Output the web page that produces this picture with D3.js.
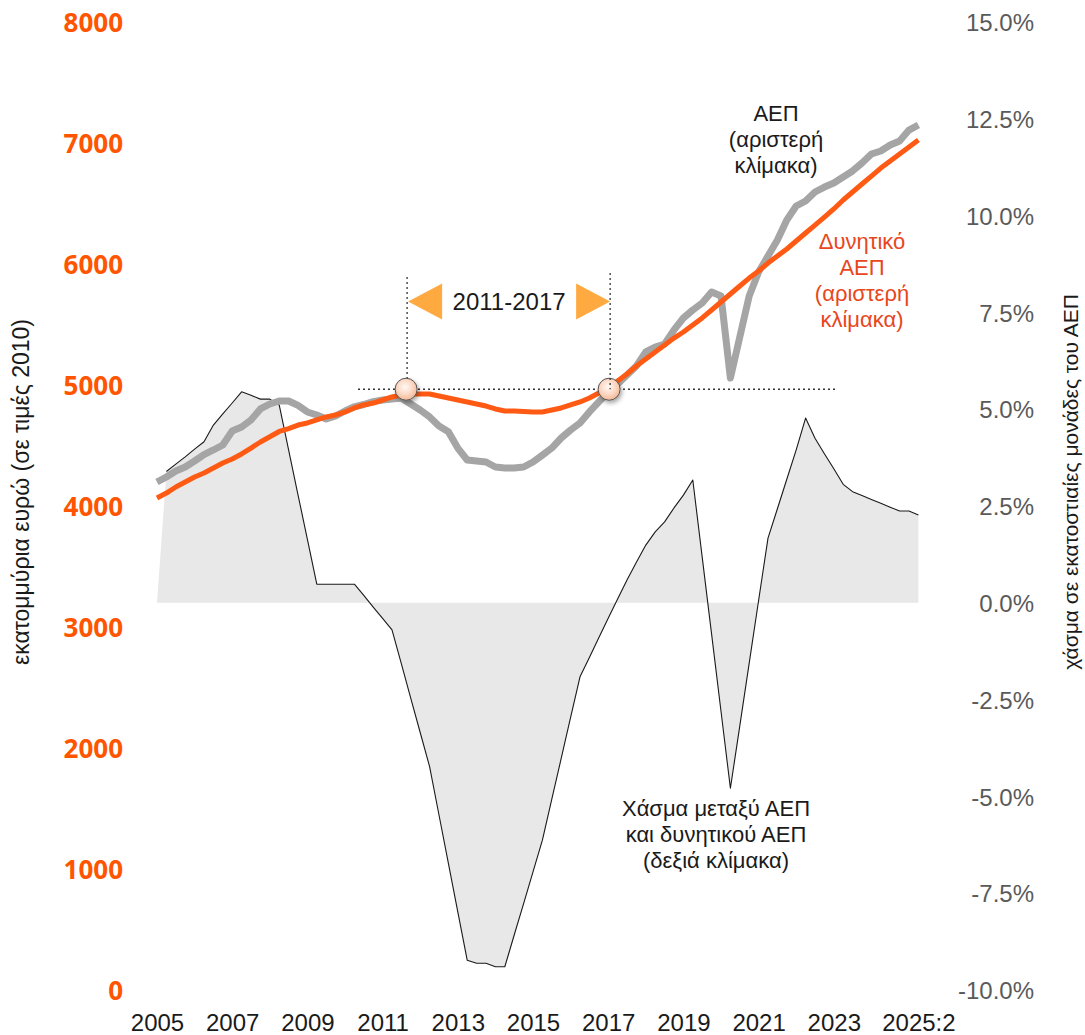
<!DOCTYPE html>
<html>
<head>
<meta charset="utf-8">
<script src="https://cdn.jsdelivr.net/npm/d3@7"></script>
<style>
  html, body { margin: 0; padding: 0; background: #fff; }
  svg { display: block; }
</style>
</head>
<body>
<svg id="chart" width="1085" height="1035"></svg>
<script>
// Quarterly periods 2005:1 … 2025:2
const quarters = d3.range(2005, 2026)
  .flatMap(y => [1, 2, 3, 4].map(q => `${y}:${q}`))
  .slice(0, 82);

// Real GDP, million euro at 2010 prices (left scale)
const gdp = [
  4198, 4240, 4289, 4322,
  4372, 4425, 4463, 4504,
  4620, 4653, 4711, 4802,
  4843, 4868, 4868, 4831,
  4777, 4752, 4719, 4744,
  4785, 4820, 4839, 4863,
  4876, 4884, 4893, 4843,
  4793, 4736, 4661, 4614,
  4479, 4380, 4372, 4364,
  4322, 4314, 4314, 4322,
  4364, 4421, 4479, 4562,
  4628, 4686, 4777, 4860,
  4942, 5008, 5083, 5157,
  5273, 5314, 5339, 5455,
  5554, 5620, 5678, 5769,
  5736, 5058, 5397, 5736,
  5934, 6066, 6198, 6364,
  6479, 6521, 6595, 6636,
  6669, 6719, 6769, 6835,
  6909, 6934, 6983, 7017,
  7107, 7149
];

// Potential GDP, million euro at 2010 prices (left scale)
const potential = [
  4066, 4107, 4157, 4198,
  4240, 4273, 4314, 4355,
  4388, 4430, 4479, 4529,
  4572, 4616, 4640, 4669,
  4686, 4711, 4736, 4752,
  4777, 4810, 4835, 4851,
  4876, 4901, 4917, 4926,
  4926, 4926, 4909, 4893,
  4876, 4860, 4843, 4826,
  4802, 4785, 4785, 4781,
  4777, 4777, 4793, 4810,
  4835, 4860, 4893, 4934,
  4983, 5033, 5091, 5157,
  5215, 5273, 5331, 5388,
  5438, 5496, 5554, 5620,
  5686, 5752, 5818, 5884,
  5942, 6008, 6066, 6124,
  6190, 6256, 6322, 6388,
  6455, 6529, 6595, 6661,
  6727, 6793, 6851, 6909,
  6967, 7025
];

// Output gap, percentage points of GDP (right scale); first quarter not available
const gap = [
  null, 3.39, 3.58, 3.77,
  3.97, 4.16, 4.59, 4.88,
  5.16, 5.45, 5.36, 5.26,
  5.26, 5.11, 3.95, 2.79,
  1.64, 0.48, 0.48, 0.48,
  0.48, 0.48, 0.19, -0.11,
  -0.40, -0.70, -1.58, -2.47,
  -3.35, -4.23, -5.48, -6.73,
  -7.98, -9.23, -9.31, -9.31,
  -9.40, -9.40, -8.58, -7.77,
  -6.95, -6.13, -5.07, -4.02,
  -2.96, -1.91, -1.41, -0.90,
  -0.40, 0.10, 0.59, 1.05,
  1.49, 1.83, 2.09, 2.45,
  2.78, 3.17, 1.18, -0.81,
  -2.80, -4.79, -3.18, -1.56,
  0.06, 1.67, 2.43, 3.19,
  3.95, 4.77, 4.25, 3.85,
  3.46, 3.06, 2.87, 2.77,
  2.67, 2.57, 2.47, 2.37,
  2.37, 2.27
];

// Axis ticks
const leftTicks = [0, 1000, 2000, 3000, 4000, 5000, 6000, 7000, 8000];
const rightTicks = [-10, -7.5, -5, -2.5, 0, 2.5, 5, 7.5, 10, 12.5, 15];
const xTickPeriods = ["2005:1", "2007:1", "2009:1", "2011:1", "2013:1", "2015:1",
                      "2017:1", "2019:1", "2021:1", "2023:1", "2025:2"];
const xTickLabels = ["2005", "2007", "2009", "2011", "2013", "2015",
                     "2017", "2019", "2021", "2023", "2025:2"];

// 2011-2017 highlight: period positions (fractional quarter index) and level
const spanMarks = [26.5, 48.1];
const spanLevel = 4965;
const spanLabel = "2011-2017";

const svg = d3.select("#chart");
const FONT = "'Liberation Sans', Arial, sans-serif";
const pct = d3.formatLocale({ decimal: ".", thousands: ",", grouping: [3],
                              currency: ["", ""], minus: "-" }).format(".1f");

const x = d3.scaleLinear().domain([0, quarters.length - 1]).range([157, 918.4]);
const yL = d3.scaleLinear().domain([0, 8000]).range([990, 22]);
const yR = d3.scaleLinear().domain([-10, 15]).range([990, 22]);

const defs = svg.append("defs");
const grad = defs.append("radialGradient").attr("id", "ball")
  .attr("cx", "45%").attr("cy", "40%").attr("r", "60%");
grad.append("stop").attr("offset", "0%").attr("stop-color", "#fffaf6");
grad.append("stop").attr("offset", "55%").attr("stop-color", "#fcd9c6");
grad.append("stop").attr("offset", "100%").attr("stop-color", "#f3b896");
const shadow = defs.append("filter").attr("id", "shadow")
  .attr("x", "-50%").attr("y", "-50%").attr("width", "200%").attr("height", "200%");
shadow.append("feDropShadow").attr("dx", 1.5).attr("dy", 2.5)
  .attr("stdDeviation", 2).attr("flood-color", "#000").attr("flood-opacity", 0.35);

// Output gap: shaded area and outline
const gapArea = d3.area()
  .x((d, i) => x(i))
  .y0(yR(0))
  .y1(d => yR(d == null ? 0 : d));
svg.append("path").datum(gap)
  .attr("d", gapArea)
  .attr("fill", "#e8e8e8");

const gapLine = d3.line()
  .defined(d => d != null)
  .x((d, i) => x(i))
  .y(d => yR(d));
svg.append("path").datum(gap)
  .attr("d", gapLine)
  .attr("fill", "none")
  .attr("stroke", "#1a1a1a")
  .attr("stroke-width", 1.1)
  .attr("stroke-linejoin", "round");

// GDP and potential GDP
const lvlLine = d3.line().x((d, i) => x(i)).y(d => yL(d));
svg.append("path").datum(gdp)
  .attr("d", lvlLine)
  .attr("fill", "none")
  .attr("stroke", "#a5a5a5")
  .attr("stroke-width", 7)
  .attr("stroke-linejoin", "round");
svg.append("path").datum(potential)
  .attr("d", lvlLine)
  .attr("fill", "none")
  .attr("stroke", "#ff5a14")
  .attr("stroke-width", 5)
  .attr("stroke-linejoin", "round");

// Highlight of the 2011-2017 span
const dotted = { stroke: "#333", "stroke-width": 1.3, "stroke-dasharray": "2,3" };
function applyAttrs(sel, attrs) { Object.entries(attrs).forEach(([k, v]) => sel.attr(k, v)); return sel; }

applyAttrs(svg.append("line")
  .attr("x1", 358).attr("x2", 835)
  .attr("y1", yL(spanLevel)).attr("y2", yL(spanLevel)), dotted);

const bracketY = yL(5690);
svg.selectAll("circle.mark").data(spanMarks).join("circle")
  .attr("class", "mark")
  .attr("cx", d => x(d)).attr("cy", yL(spanLevel)).attr("r", 11)
  .attr("fill", "url(#ball)")
  .attr("stroke", "#555").attr("stroke-width", 1)
  .attr("filter", "url(#shadow)");

spanMarks.forEach((m, i) => {
  applyAttrs(svg.append("line")
    .attr("x1", x(m) + 1).attr("x2", x(m) + 1)
    .attr("y1", i === 0 ? 277 : 273)
    .attr("y2", i === 0 ? yL(spanLevel) - 11 : yL(spanLevel)), dotted);
});

const xa = x(spanMarks[0]) + 2, xb = x(spanMarks[1]) + 1;
svg.append("path")
  .attr("d", `M${xa},${bracketY} L${xa + 34},${bracketY - 18} L${xa + 34},${bracketY + 18} Z`)
  .attr("fill", "#ffaa40");
svg.append("path")
  .attr("d", `M${xb},${bracketY} L${xb - 34},${bracketY - 18} L${xb - 34},${bracketY + 18} Z`)
  .attr("fill", "#ffaa40");
svg.append("text")
  .attr("x", (xa + xb) / 2).attr("y", bracketY).attr("dy", "0.36em")
  .attr("text-anchor", "middle")
  .attr("font-family", FONT).attr("font-size", 24).attr("fill", "#1a1a1a")
  .text(spanLabel);

// Series labels
function multiline(lines, cx, y0, lh, color) {
  const t = svg.append("text")
    .attr("text-anchor", "middle")
    .attr("font-family", FONT).attr("font-size", 22).attr("fill", color);
  lines.forEach((s, i) => t.append("tspan").attr("x", cx).attr("y", y0 + i * lh).text(s));
}
multiline(["ΑΕΠ", "(αριστερή", "κλίμακα)"], 776, 121, 26, "#1a1a1a");
multiline(["Δυνητικό", "ΑΕΠ", "(αριστερή", "κλίμακα)"], 862, 249, 26, "#e8461c");
multiline(["Χάσμα μεταξύ ΑΕΠ", "και δυνητικού ΑΕΠ", "(δεξιά κλίμακα)"], 716, 816, 26, "#1a1a1a");

// Left axis
const axL = svg.append("g").attr("transform", "translate(123,0)")
  .call(d3.axisLeft(yL).tickValues(leftTicks).tickSize(0).tickPadding(0).tickFormat(d3.format("d")));
axL.select(".domain").remove();
axL.selectAll("text")
  .attr("font-family", "'Open Sans', sans-serif")
  .attr("font-weight", 700).attr("font-size", 26)
  .attr("fill", "#ff5500").attr("dy", "0.36em");

// Right axis
const axR = svg.append("g").attr("transform", "translate(1034,0)")
  .call(d3.axisLeft(yR).tickValues(rightTicks).tickSize(0).tickPadding(0)
    .tickFormat(d => pct(d) + "%"));
axR.select(".domain").remove();
axR.selectAll("text")
  .attr("font-family", FONT).attr("font-size", 24)
  .attr("fill", "#5a5a5a").attr("dy", "0.36em");

// Bottom axis
const xIdx = xTickPeriods.map(p => quarters.indexOf(p));
const axB = svg.append("g").attr("transform", "translate(0,1014)")
  .call(d3.axisBottom(x).tickValues(xIdx).tickSize(0).tickPadding(0)
    .tickFormat((d, i) => xTickLabels[i]));
axB.select(".domain").remove();
axB.selectAll("text")
  .attr("font-family", FONT).attr("font-size", 24)
  .attr("fill", "#1a1a1a").attr("dy", "0.71em");

// Axis titles
svg.append("text")
  .attr("transform", "translate(29,492) rotate(-90)")
  .attr("text-anchor", "middle")
  .attr("font-family", FONT).attr("font-size", 23).attr("fill", "#1a1a1a")
  .text("εκατομμύρια ευρώ (σε τιμές 2010)");
svg.append("text")
  .attr("transform", "translate(1078,482) rotate(-90)")
  .attr("text-anchor", "middle")
  .attr("font-family", FONT).attr("font-size", 21).attr("fill", "#1a1a1a")
  .text("χάσμα σε εκατοστιαίες μονάδες του ΑΕΠ");
</script>
</body>
</html>
